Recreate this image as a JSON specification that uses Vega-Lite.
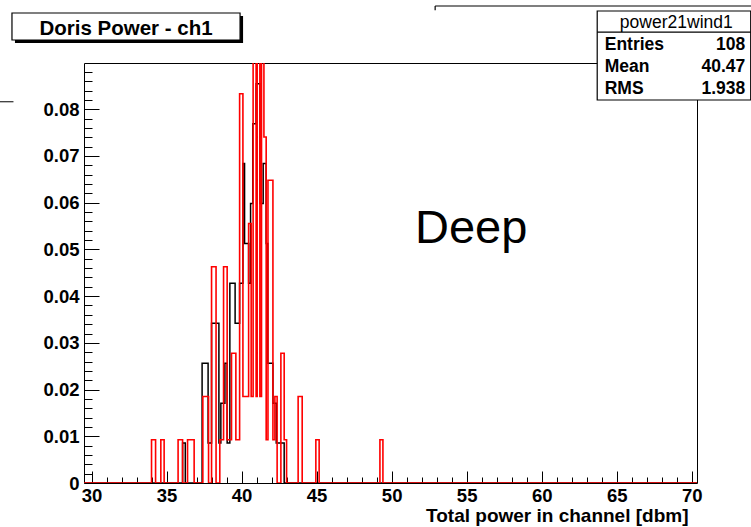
{
  "$schema": "https://vega.github.io/schema/vega-lite/v6.json",
  "width": 613,
  "height": 420,
  "autosize": "none",
  "padding": {"left": 84, "top": 63, "right": 54, "bottom": 44},
  "background": "white",
  "config": {
    "view": {"stroke": "black", "strokeWidth": 1},
    "font": "Liberation Sans",
    "text": {"font": "Liberation Sans", "color": "black"}
  },
  "datasets": {
    "power21wind1": [
      {"x": 29.5, "p": 0},
      {"x": 34.0, "p": 0.00926},
      {"x": 34.27, "p": 0},
      {"x": 34.62, "p": 0.00926},
      {"x": 34.84, "p": 0},
      {"x": 35.77, "p": 0.00926},
      {"x": 36.07, "p": 0},
      {"x": 36.4, "p": 0.00926},
      {"x": 36.84, "p": 0},
      {"x": 37.42, "p": 0.01852},
      {"x": 37.8, "p": 0},
      {"x": 38.0, "p": 0.0463},
      {"x": 38.3, "p": 0},
      {"x": 38.55, "p": 0.00926},
      {"x": 38.8, "p": 0.0463},
      {"x": 39.04, "p": 0.00926},
      {"x": 39.33, "p": 0.02778},
      {"x": 39.62, "p": 0.00926},
      {"x": 39.87, "p": 0.08333},
      {"x": 40.09, "p": 0.01852},
      {"x": 40.47, "p": 0.05556},
      {"x": 40.64, "p": 0.01852},
      {"x": 40.77, "p": 0.09259},
      {"x": 40.97, "p": 0.01852},
      {"x": 41.04, "p": 0.09259},
      {"x": 41.22, "p": 0.01852},
      {"x": 41.33, "p": 0.09259},
      {"x": 41.49, "p": 0.07407},
      {"x": 41.64, "p": 0.00926},
      {"x": 41.76, "p": 0.06481},
      {"x": 42.09, "p": 0.00926},
      {"x": 42.22, "p": 0.01852},
      {"x": 42.37, "p": 0},
      {"x": 42.62, "p": 0.02778},
      {"x": 42.84, "p": 0.00926},
      {"x": 43.0, "p": 0},
      {"x": 43.77, "p": 0.01852},
      {"x": 44.04, "p": 0},
      {"x": 44.95, "p": 0.00926},
      {"x": 45.17, "p": 0},
      {"x": 49.22, "p": 0.00926},
      {"x": 49.42, "p": 0},
      {"x": 70.35, "p": 0}
    ],
    "reference": [
      {"x": 29.5, "p": 0},
      {"x": 36.07, "p": 0.00855},
      {"x": 36.25, "p": 0},
      {"x": 37.37, "p": 0.02564},
      {"x": 37.77, "p": 0.00855},
      {"x": 38.0, "p": 0.03419},
      {"x": 38.49, "p": 0.00855},
      {"x": 38.62, "p": 0.01709},
      {"x": 38.89, "p": 0.02564},
      {"x": 39.04, "p": 0.00855},
      {"x": 39.22, "p": 0.04274},
      {"x": 39.57, "p": 0.03419},
      {"x": 39.87, "p": 0.04274},
      {"x": 40.09, "p": 0.06838},
      {"x": 40.2, "p": 0.05128},
      {"x": 40.47, "p": 0.04274},
      {"x": 40.6, "p": 0.05983},
      {"x": 40.75, "p": 0.07692},
      {"x": 40.97, "p": 0.08547},
      {"x": 41.22, "p": 0.05983},
      {"x": 41.44, "p": 0.06838},
      {"x": 41.64, "p": 0.05128},
      {"x": 41.75, "p": 0.02564},
      {"x": 42.09, "p": 0.01709},
      {"x": 42.31, "p": 0.00855},
      {"x": 42.84, "p": 0},
      {"x": 70.35, "p": 0}
    ]
  },
  "resolve": {"axis": {"x": "independent", "y": "independent"}},
  "layer": [
    {
      "data": {"name": "reference"},
      "mark": {"type": "line", "interpolate": "step-after", "color": "black", "strokeWidth": 1.5, "clip": true},
      "encoding": {
        "x": {
          "field": "x", "type": "quantitative",
          "scale": {"domain": [29.5, 70.35], "nice": false, "zero": false},
          "axis": {
            "orient": "bottom", "values": [30, 35, 40, 45, 50, 55, 60, 65, 70],
            "format": "d", "domain": false, "grid": false,
            "tickSize": -12, "tickColor": "black", "tickWidth": 1,
            "labelPadding": 15, "labelFont": "Liberation Sans", "labelFontWeight": "bold",
            "labelFontSize": 18.5, "labelColor": "black", "labelFlush": false, "labelOverlap": false,
            "title": "Total power in channel [dbm]", "titleFont": "Liberation Sans",
            "titleFontWeight": "bold", "titleFontSize": 19, "titleColor": "black",
            "titleAlign": "right", "titleAnchor": "end", "titleX": 604, "titleY": 38,
            "titleBaseline": "alphabetic"
          }
        },
        "y": {
          "field": "p", "type": "quantitative",
          "scale": {"domain": [0, 0.0899], "nice": false, "zero": true},
          "axis": {
            "orient": "left", "values": [0, 0.01, 0.02, 0.03, 0.04, 0.05, 0.06, 0.07, 0.08],
            "format": ".2~f", "domain": false, "grid": false,
            "tickSize": -15, "tickColor": "black", "tickWidth": 1,
            "labelPadding": 20, "labelFont": "Liberation Sans", "labelFontWeight": "bold",
            "labelFontSize": 18.5, "labelColor": "black", "labelFlush": false, "labelOverlap": false,
            "title": null
          }
        }
      }
    },
    {
      "data": {"name": "power21wind1"},
      "mark": {"type": "line", "interpolate": "step-after", "color": "#ff0000", "strokeWidth": 1.6, "clip": true},
      "encoding": {
        "x": {
          "field": "x", "type": "quantitative",
          "scale": {"domain": [29.5, 70.35], "nice": false, "zero": false},
          "axis": {
            "orient": "bottom",
            "values": [30,31,32,33,34,35,36,37,38,39,40,41,42,43,44,45,46,47,48,49,50,51,52,53,54,55,56,57,58,59,60,61,62,63,64,65,66,67,68,69,70],
            "labels": false, "domain": false, "grid": false, "title": null,
            "tickSize": -6, "tickColor": "black", "tickWidth": 1
          }
        },
        "y": {
          "field": "p", "type": "quantitative",
          "scale": {"domain": [0, 0.0899], "nice": false, "zero": true},
          "axis": {
            "orient": "left",
            "values": [0.002,0.004,0.006,0.008,0.012,0.014,0.016,0.018,0.022,0.024,0.026,0.028,0.032,0.034,0.036,0.038,0.042,0.044,0.046,0.048,0.052,0.054,0.056,0.058,0.062,0.064,0.066,0.068,0.072,0.074,0.076,0.078,0.082,0.084,0.086,0.088],
            "labels": false, "domain": false, "grid": false, "title": null,
            "tickSize": -8, "tickColor": "black", "tickWidth": 1
          }
        }
      }
    },
    {
      "data": {"values": [{"label": "Deep"}]},
      "mark": {"type": "text", "fontSize": 47, "align": "center", "baseline": "alphabetic"},
      "encoding": {
        "x": {"datum": 55.3, "type": "quantitative", "scale": {"domain": [29.5, 70.35], "nice": false, "zero": false}, "axis": null},
        "y": {"datum": 0.0514, "type": "quantitative", "scale": {"domain": [0, 0.0899], "nice": false, "zero": true}, "axis": null},
        "text": {"field": "label"}
      }
    },
    {
      "data": {"values": [{"title": "Doris Power - ch1"}]},
      "layer": [
        {
          "mark": {"type": "rect", "color": "black", "clip": false},
          "encoding": {
            "x": {"datum": 24.9, "type": "quantitative", "scale": {"domain": [29.5, 70.35], "nice": false, "zero": false}, "axis": null},
            "x2": {"datum": 40.1},
            "y": {"datum": 0.09996, "type": "quantitative", "scale": {"domain": [0, 0.0899], "nice": false, "zero": true}, "axis": null},
            "y2": {"datum": 0.09418}
          }
        },
        {
          "mark": {"type": "rect", "fill": "white", "stroke": "black", "strokeWidth": 1.2, "clip": false},
          "encoding": {
            "x": {"datum": 24.7, "type": "quantitative", "scale": {"domain": [29.5, 70.35], "nice": false, "zero": false}, "axis": null},
            "x2": {"datum": 39.9},
            "y": {"datum": 0.1006, "type": "quantitative", "scale": {"domain": [0, 0.0899], "nice": false, "zero": true}, "axis": null},
            "y2": {"datum": 0.09482}
          }
        },
        {
          "mark": {"type": "text", "fontSize": 20.5, "fontWeight": "bold", "align": "center", "baseline": "alphabetic", "clip": false},
          "encoding": {
            "x": {"datum": 32.3, "type": "quantitative", "scale": {"domain": [29.5, 70.35], "nice": false, "zero": false}, "axis": null},
            "y": {"datum": 0.0960, "type": "quantitative", "scale": {"domain": [0, 0.0899], "nice": false, "zero": true}, "axis": null},
            "text": {"field": "title"}
          }
        }
      ]
    },
    {
      "data": {"values": [{"name": "power21wind1", "labels": ["Entries", "Mean", "RMS"], "stats": ["108", "40.47", "1.938"]}]},
      "layer": [
        {
          "mark": {"type": "rect", "fill": "white", "stroke": "black", "strokeWidth": 1.2, "clip": false},
          "encoding": {
            "x": {"datum": 63.7, "type": "quantitative", "scale": {"domain": [29.5, 70.35], "nice": false, "zero": false}, "axis": null},
            "x2": {"datum": 73.93},
            "y": {"datum": 0.10103, "type": "quantitative", "scale": {"domain": [0, 0.0899], "nice": false, "zero": true}, "axis": null},
            "y2": {"datum": 0.08198}
          }
        },
        {
          "mark": {"type": "rule", "color": "black", "strokeWidth": 1.2, "clip": false},
          "encoding": {
            "x": {"datum": 63.7, "type": "quantitative", "scale": {"domain": [29.5, 70.35], "nice": false, "zero": false}, "axis": null},
            "x2": {"datum": 73.93},
            "y": {"datum": 0.09653, "type": "quantitative", "scale": {"domain": [0, 0.0899], "nice": false, "zero": true}, "axis": null}
          }
        },
        {
          "mark": {"type": "text", "fontSize": 17.5, "fontWeight": 500, "align": "center", "baseline": "alphabetic", "clip": false},
          "encoding": {
            "x": {"datum": 68.97, "type": "quantitative", "scale": {"domain": [29.5, 70.35], "nice": false, "zero": false}, "axis": null},
            "y": {"datum": 0.09739, "type": "quantitative", "scale": {"domain": [0, 0.0899], "nice": false, "zero": true}, "axis": null},
            "text": {"field": "name"}
          }
        },
        {
          "mark": {"type": "text", "fontSize": 17.5, "fontWeight": "bold", "align": "left", "baseline": "alphabetic", "lineHeight": 22, "clip": false},
          "encoding": {
            "x": {"datum": 64.2, "type": "quantitative", "scale": {"domain": [29.5, 70.35], "nice": false, "zero": false}, "axis": null},
            "y": {"datum": 0.09268, "type": "quantitative", "scale": {"domain": [0, 0.0899], "nice": false, "zero": true}, "axis": null},
            "text": {"field": "labels"}
          }
        },
        {
          "mark": {"type": "text", "fontSize": 17.5, "fontWeight": "bold", "align": "right", "baseline": "alphabetic", "lineHeight": 22, "clip": false},
          "encoding": {
            "x": {"datum": 73.57, "type": "quantitative", "scale": {"domain": [29.5, 70.35], "nice": false, "zero": false}, "axis": null},
            "y": {"datum": 0.09268, "type": "quantitative", "scale": {"domain": [0, 0.0899], "nice": false, "zero": true}, "axis": null},
            "text": {"field": "stats"}
          }
        }
      ]
    },
    {
      "data": {"values": [{"part": "upper pad edge"}]},
      "layer": [
        {
          "mark": {"type": "rule", "color": "black", "strokeWidth": 1.2, "clip": false},
          "encoding": {
            "x": {"datum": 52.9, "type": "quantitative", "scale": {"domain": [29.5, 70.35], "nice": false, "zero": false}, "axis": null},
            "x2": {"datum": 73.97},
            "y": {"datum": 0.1021, "type": "quantitative", "scale": {"domain": [0, 0.0899], "nice": false, "zero": true}, "axis": null}
          }
        },
        {
          "mark": {"type": "rule", "color": "black", "strokeWidth": 1.2, "clip": false},
          "encoding": {
            "x": {"datum": 52.9, "type": "quantitative", "scale": {"domain": [29.5, 70.35], "nice": false, "zero": false}, "axis": null},
            "y": {"datum": 0.1021, "type": "quantitative", "scale": {"domain": [0, 0.0899], "nice": false, "zero": true}, "axis": null},
            "y2": {"datum": 0.1012}
          }
        },
        {
          "mark": {"type": "rule", "color": "black", "strokeWidth": 1, "clip": false},
          "encoding": {
            "x": {"datum": 23.9, "type": "quantitative", "scale": {"domain": [29.5, 70.35], "nice": false, "zero": false}, "axis": null},
            "x2": {"datum": 24.8},
            "y": {"datum": 0.0816, "type": "quantitative", "scale": {"domain": [0, 0.0899], "nice": false, "zero": true}, "axis": null}
          }
        }
      ]
    }
  ]
}
